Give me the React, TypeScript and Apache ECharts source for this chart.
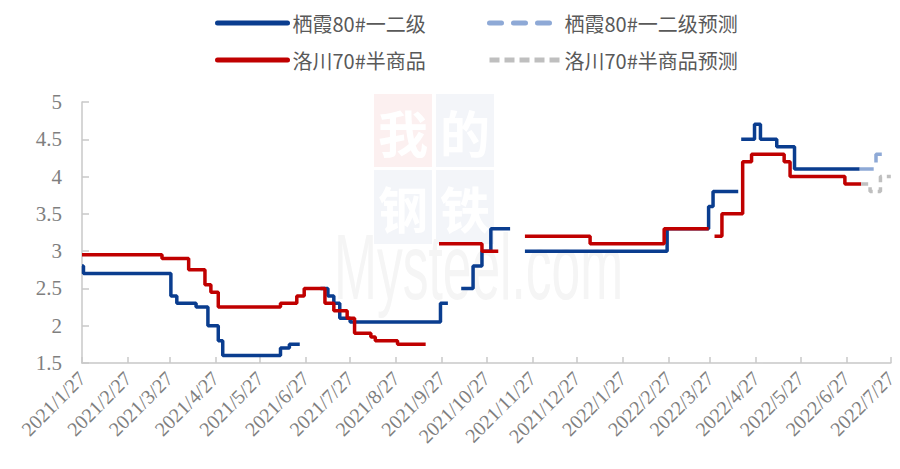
import React, { useEffect, useRef } from "react";
import * as echarts from "echarts";

type Pt = [string, number | "-"];

const NAME_BLUE = "栖霞80#一二级";
const NAME_BLUE_F = "栖霞80#一二级预测";
const NAME_RED = "洛川70#半商品";
const NAME_RED_F = "洛川70#半商品预测";

const blueActual: Pt[] = [
  ["2021-01-27", 2.8], ["2021-01-28", 2.7], ["2021-03-28", 2.4], ["2021-04-01", 2.3],
  ["2021-04-14", 2.25], ["2021-04-22", 2.0], ["2021-04-29", 1.8], ["2021-05-02", 1.6],
  ["2021-06-10", 1.7], ["2021-06-16", 1.75], ["2021-06-22", 1.75], ["2021-06-23", "-"],
  ["2021-07-07", 2.5], ["2021-07-12", 2.4], ["2021-07-16", 2.3], ["2021-07-20", 2.1],
  ["2021-07-27", 2.05], ["2021-09-26", 2.3], ["2021-09-30", 2.3], ["2021-10-01", "-"],
  ["2021-10-10", 2.5], ["2021-10-18", 2.8], ["2021-10-24", 3.0], ["2021-10-30", 3.3],
  ["2021-11-11", 3.3], ["2021-11-12", "-"],
  ["2021-11-22", 3.0], ["2022-02-26", 3.3], ["2022-03-26", 3.6], ["2022-03-29", 3.8],
  ["2022-04-14", 3.8], ["2022-04-15", "-"],
  ["2022-04-17", 4.5], ["2022-04-26", 4.7], ["2022-04-30", 4.5], ["2022-05-11", 4.4],
  ["2022-05-23", 4.1], ["2022-07-06", 4.1],
];

const blueForecast: Pt[] = [
  ["2022-07-06", 4.1], ["2022-07-17", 4.3], ["2022-07-27", 4.3],
];

const redActual: Pt[] = [
  ["2021-01-27", 2.95], ["2021-03-22", 2.9], ["2021-04-09", 2.75], ["2021-04-20", 2.55],
  ["2021-04-24", 2.45], ["2021-04-29", 2.25], ["2021-06-10", 2.3], ["2021-06-21", 2.4],
  ["2021-06-26", 2.5], ["2021-07-10", 2.3], ["2021-07-16", 2.2], ["2021-07-25", 2.1],
  ["2021-07-30", 1.9], ["2021-08-10", 1.85], ["2021-08-13", 1.8], ["2021-08-28", 1.75],
  ["2021-09-15", 1.75], ["2021-09-16", "-"],
  ["2021-09-25", 3.1], ["2021-10-24", 3.0], ["2021-11-03", 3.0], ["2021-11-04", "-"],
  ["2021-11-22", 3.2], ["2022-01-05", 3.1], ["2022-02-24", 3.3], ["2022-03-25", 3.3],
  ["2022-03-26", "-"],
  ["2022-03-30", 3.2], ["2022-04-04", 3.5], ["2022-04-18", 4.2], ["2022-04-24", 4.3],
  ["2022-05-16", 4.2], ["2022-05-20", 4.0], ["2022-06-26", 3.9], ["2022-07-07", 3.9],
];

const redForecast: Pt[] = [
  ["2022-07-07", 3.9], ["2022-07-13", 3.8], ["2022-07-20", 4.0], ["2022-07-27", 4.0],
];

// x-axis tick dates (the 27th of every month)
const tickDates: string[] = [
  "2021-01-27", "2021-02-27", "2021-03-27", "2021-04-27", "2021-05-27", "2021-06-27",
  "2021-07-27", "2021-08-27", "2021-09-27", "2021-10-27", "2021-11-27", "2021-12-27",
  "2022-01-27", "2022-02-27", "2022-03-27", "2022-04-27", "2022-05-27", "2022-06-27",
  "2022-07-27",
];

const yMin = 1.5;
const yMax = 5;
const yStep = 0.5;

function ts(s: string): number {
  const [y, m, d] = s.split("-").map(Number);
  return new Date(y, m - 1, d).getTime();
}
function conv(arr: Pt[]): any[] {
  return arr.map(([d, v]) => [ts(d), v]);
}

const SERIF = "'Liberation Serif', 'Times New Roman', serif";
const CJK = "'Noto Sans CJK SC', 'Noto Sans', sans-serif";

const C_BLUE = "#0A3D8F";
const C_BLUE_F = "#8EA9D6";
const C_RED = "#C00000";
const C_RED_F = "#BFBFBF";

export default function App() {
  const ref = useRef<HTMLDivElement>(null);
  useEffect(() => {
    if (!ref.current) return;
    const chart = echarts.init(ref.current, undefined, { renderer: "svg" });
    const ticks = tickDates.map(ts);
    const legendBase = {
      itemWidth: 70,
      itemHeight: 14,
      itemGap: 6,
      itemStyle: { opacity: 0 },
      textStyle: { color: "#595959", fontSize: 20, fontFamily: CJK },
    };
    const option: any = {
      animation: false,
      backgroundColor: "#ffffff",
      legend: [
        { ...legendBase, data: [NAME_BLUE], left: 210, top: 8, lineStyle: { width: 5, cap: "round", color: C_BLUE } },
        { ...legendBase, data: [NAME_BLUE_F], left: 482, top: 8, lineStyle: { width: 5, cap: "round", color: C_BLUE_F, type: [12, 12] } },
        { ...legendBase, data: [NAME_RED], left: 210, top: 45, lineStyle: { width: 5, cap: "round", color: C_RED } },
        { ...legendBase, data: [NAME_RED_F], left: 482, top: 45, lineStyle: { width: 5, color: C_RED_F, type: [10, 5] } },
      ],
      graphic: [
        { type: "rect", z: 0, silent: true, shape: { x: 374, y: 94, width: 58, height: 73 }, style: { fill: "#FCF0F0" } },
        { type: "rect", z: 0, silent: true, shape: { x: 436, y: 94, width: 58, height: 73 }, style: { fill: "#F3F5F9" } },
        { type: "rect", z: 0, silent: true, shape: { x: 374, y: 170, width: 58, height: 74 }, style: { fill: "#F3F5F9" } },
        { type: "rect", z: 0, silent: true, shape: { x: 436, y: 170, width: 58, height: 74 }, style: { fill: "#F3F5F9" } },
        { type: "text", z: 0, silent: true, x: 403, y: 131, style: { text: "我", fill: "#ffffff", font: "bold 50px 'Noto Sans CJK SC'", align: "center", verticalAlign: "middle" } },
        { type: "text", z: 0, silent: true, x: 465, y: 131, style: { text: "的", fill: "#ffffff", font: "bold 50px 'Noto Sans CJK SC'", align: "center", verticalAlign: "middle" } },
        { type: "text", z: 0, silent: true, x: 403, y: 207, style: { text: "钢", fill: "#ffffff", font: "bold 50px 'Noto Sans CJK SC'", align: "center", verticalAlign: "middle" } },
        { type: "text", z: 0, silent: true, x: 465, y: 207, style: { text: "铁", fill: "#ffffff", font: "bold 50px 'Noto Sans CJK SC'", align: "center", verticalAlign: "middle" } },
        { type: "text", z: 0, silent: true, x: 334, y: 222, scaleX: 0.56, scaleY: 1, style: { text: "Mysteel.com", fill: "#F5F5F5", font: "92px 'Liberation Sans', Arial, sans-serif", align: "left", verticalAlign: "top" } },
      ],
      grid: { left: 82, right: 3, top: 102, bottom: 106 },
      xAxis: {
        type: "value",
        min: ts(tickDates[0]),
        max: ts(tickDates[tickDates.length - 1]),
        axisLine: { show: true, lineStyle: { color: "#C8C8C8", width: 1.5 } },
        axisTick: { show: true, inside: true, length: 6, customValues: ticks, lineStyle: { color: "#C8C8C8", width: 1.5 } },
        axisLabel: {
          customValues: ticks,
          rotate: 45,
          margin: 12,
          color: "#7F7F7F",
          fontSize: 20,
          fontFamily: SERIF,
          formatter: (v: number) => {
            const d = new Date(v);
            return `${d.getFullYear()}/${d.getMonth() + 1}/${d.getDate()}`;
          },
        },
        splitLine: { show: false },
      },
      yAxis: {
        type: "value",
        min: yMin,
        max: yMax,
        interval: yStep,
        axisLine: { show: true, lineStyle: { color: "#C8C8C8", width: 1.5 } },
        axisTick: { show: true, inside: true, length: 7, lineStyle: { color: "#C8C8C8", width: 1.5 } },
        axisLabel: { color: "#7F7F7F", fontSize: 21, fontFamily: SERIF, margin: 20 },
        splitLine: { show: false },
      },
      series: [
        {
          name: NAME_BLUE, type: "line", step: "end", symbol: "none", data: conv(blueActual),
          lineStyle: { color: C_BLUE, width: 3.5 }, itemStyle: { color: C_BLUE }, z: 3,
        },
        {
          name: NAME_BLUE_F, type: "line", step: "end", symbol: "none", data: conv(blueForecast),
          lineStyle: { color: C_BLUE_F, width: 3.5, type: [14, 9] }, itemStyle: { color: C_BLUE_F }, z: 3,
        },
        {
          name: NAME_RED, type: "line", step: "end", symbol: "none", data: conv(redActual),
          lineStyle: { color: C_RED, width: 3.5 }, itemStyle: { color: C_RED }, z: 4,
        },
        {
          name: NAME_RED_F, type: "line", step: "end", symbol: "none", data: conv(redForecast),
          lineStyle: { color: C_RED_F, width: 3.5, type: [7, 5] }, itemStyle: { color: C_RED_F }, z: 4,
        },
      ],
    };
    chart.setOption(option);
    return () => chart.dispose();
  }, []);
  return (
    <div
      ref={ref}
      style={{ position: "fixed", left: 0, top: 0, width: 900, height: 469, background: "#fff" }}
    />
  );
}
